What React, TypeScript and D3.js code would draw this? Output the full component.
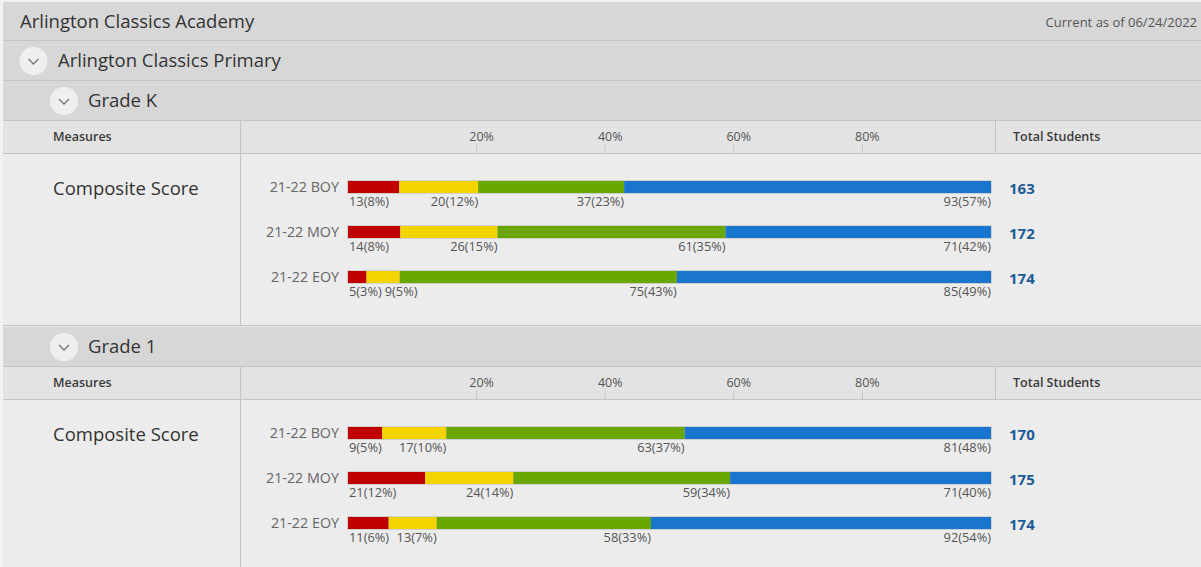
import React, { useRef, useEffect } from 'react';
import * as d3 from 'd3';

const schoolName = 'Arlington Classics Academy';
const campusName = 'Arlington Classics Primary';
const asOfText = 'Current as of 06/24/2022';
const measureName = 'Composite Score';
const grades = ['Grade K', 'Grade 1'];
const periods = ['21-22 BOY', '21-22 MOY', '21-22 EOY'];
const tickValues = [0.2, 0.4, 0.6, 0.8];

// counts per benchmark band: well below, below, at, above
const gradeKCounts = [[13, 20, 37, 93], [14, 26, 61, 71], [5, 9, 75, 85]];
const gradeKPcts = [[8, 12, 23, 57], [8, 15, 35, 42], [3, 5, 43, 49]];
const gradeKTotals = [163, 172, 174];
const grade1Counts = [[9, 17, 63, 81], [21, 24, 59, 71], [11, 13, 58, 92]];
const grade1Pcts = [[5, 10, 37, 48], [12, 14, 34, 40], [6, 7, 33, 54]];
const grade1Totals = [170, 175, 174];

const bandColors = ['#c00000', '#f4d400', '#6aa600', '#1a75cf'];

const W = 1201;
const H = 567;
const FONT = "'Open Sans', sans-serif";

const App: React.FC = () => {
  const svgRef = useRef<SVGSVGElement | null>(null);

  useEffect(() => {
    const svg = d3.select(svgRef.current);
    svg.selectAll('*').remove();

    const x = d3.scaleLinear().domain([0, 1]).range([348, 991]);

    svg.append('rect').attr('width', W).attr('height', H).attr('fill', '#f2f2f2');
    svg.append('rect').attr('x', 3).attr('y', 2).attr('width', W - 3).attr('height', H - 2).attr('fill', '#ececec');

    const hline = (y: number, c = '#c4c4c4') =>
      svg.append('line').attr('x1', 3).attr('x2', W).attr('y1', y + 0.5).attr('y2', y + 0.5).attr('stroke', c);

    // top rows
    svg.append('rect').attr('x', 3).attr('y', 2).attr('width', W - 3).attr('height', 38).attr('fill', '#d7d7d7');
    svg.append('text').attr('x', 20).attr('y', 28).attr('font-size', 18.5).attr('fill', '#333').text(schoolName);
    svg.append('text').attr('x', 1197).attr('y', 27).attr('font-size', 13).attr('fill', '#555')
      .attr('text-anchor', 'end').text(asOfText);
    hline(40);
    svg.append('rect').attr('x', 3).attr('y', 41).attr('width', W - 3).attr('height', 39).attr('fill', '#d7d7d7');
    hline(80);

    const chevron = (cx: number, cy: number) => {
      svg.append('circle').attr('cx', cx).attr('cy', cy).attr('r', 14).attr('fill', '#efefef');
      svg.append('path')
        .attr('d', `M${cx - 5},${cy - 2} L${cx},${cy + 3} L${cx + 5},${cy - 2}`)
        .attr('fill', 'none').attr('stroke', '#777').attr('stroke-width', 1.4);
    };
    chevron(33.5, 61);
    svg.append('text').attr('x', 58).attr('y', 67).attr('font-size', 18.5).attr('fill', '#333').text(campusName);

    const sections = [
      { counts: gradeKCounts, pcts: gradeKPcts, totals: gradeKTotals },
      { counts: grade1Counts, pcts: grade1Pcts, totals: grade1Totals },
    ];

    sections.forEach((sec, si) => {
      const s = 81 + si * 246;
      // grade row
      svg.append('rect').attr('x', 3).attr('y', s).attr('width', W - 3).attr('height', 39).attr('fill', '#d7d7d7');
      chevron(64, s + 20);
      svg.append('text').attr('x', 88).attr('y', s + 26).attr('font-size', 18.5).attr('fill', '#333').text(grades[si]);
      hline(s + 39);

      // measures header row
      const m = s + 40;
      svg.append('rect').attr('x', 3).attr('y', m).attr('width', W - 3).attr('height', 32).attr('fill', '#e3e3e3');
      svg.append('text').attr('x', 53).attr('y', m + 20).attr('font-size', 12.5).attr('font-weight', 600)
        .attr('fill', '#3a3a3a').text('Measures');
      svg.append('text').attr('x', 1013).attr('y', m + 20).attr('font-size', 12.5).attr('font-weight', 600)
        .attr('fill', '#3a3a3a').text('Total Students');
      const axis = svg.append('g');
      axis.selectAll('line').data(tickValues).enter().append('line')
        .attr('x1', d => x(d)).attr('x2', d => x(d))
        .attr('y1', m + 24).attr('y2', m + 32).attr('stroke', '#c4c4c4');
      axis.selectAll('text').data(tickValues).enter().append('text')
        .attr('x', d => x(d) + 5).attr('y', m + 20).attr('font-size', 12.5).attr('fill', '#555')
        .attr('text-anchor', 'middle').text(d => `${Math.round(d * 100)}%`);
      svg.append('line').attr('x1', 995.5).attr('x2', 995.5).attr('y1', m).attr('y2', m + 32).attr('stroke', '#c4c4c4');
      hline(m + 32);

      // body
      const b = m + 33;
      svg.append('line').attr('x1', 240.5).attr('x2', 240.5).attr('y1', m).attr('y2', b + 172).attr('stroke', '#c4c4c4');
      svg.append('text').attr('x', 53).attr('y', b + 41).attr('font-size', 18.5).attr('fill', '#333').text(measureName);

      periods.forEach((p, pi) => {
        const by = b + 27 + pi * 45;
        const counts = sec.counts[pi];
        const total = d3.sum(counts);
        const cum = d3.cumsum(counts).map(v => v / total);
        const starts = [0, ...cum.slice(0, -1)];

        svg.append('text').attr('x', 339).attr('y', by + 11).attr('font-size', 14.3).attr('fill', '#666')
          .attr('text-anchor', 'end').text(p);
        svg.append('rect').attr('x', x(0) - 1).attr('y', by - 1).attr('width', x(1) - x(0) + 2).attr('height', 14)
          .attr('fill', '#cfcfcf');
        svg.append('g').selectAll('rect').data(counts).enter().append('rect')
          .attr('x', (_, i) => x(starts[i])).attr('y', by)
          .attr('width', (_, i) => x(cum[i]) - x(starts[i])).attr('height', 12)
          .attr('fill', (_, i) => bandColors[i]);

        let prevEnd = -Infinity;
        counts.forEach((c, i) => {
          const t = svg.append('text').attr('y', by + 25).attr('font-size', 12.8).attr('fill', '#555')
            .text(`${c}(${sec.pcts[pi][i]}%)`);
          const w = (t.node() as SVGTextElement).getComputedTextLength();
          let start = i === 0 ? x(0) + 1 : x(cum[i]) - w;
          if (start < prevEnd + 3) start = prevEnd + 3;
          t.attr('x', start);
          prevEnd = start + w;
        });

        svg.append('text').attr('x', 1009).attr('y', by + 13).attr('font-size', 15).attr('font-weight', 700)
          .attr('fill', '#1c5b96').text(sec.totals[pi]);
      });

      if (si === 0) hline(b + 171, '#c0c0c0');
    });
  }, []);

  return (
    <svg ref={svgRef} width={W} height={H} fontFamily={FONT}
      style={{ position: 'absolute', left: 0, top: 0, display: 'block' }} />
  );
};

export default App;
